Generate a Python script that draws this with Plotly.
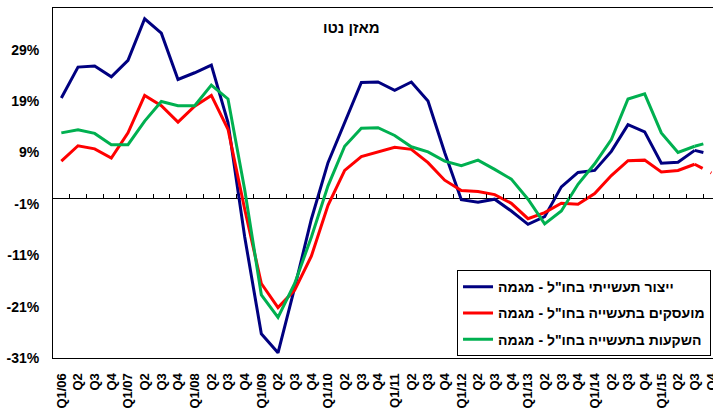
import plotly.graph_objects as go

quarters = []
for yr in range(6, 16):
    quarters += ["Q1/%02d" % yr, "Q2", "Q3", "Q4"]

industrial_production = [19.6, 25.6, 25.8, 23.7, 26.9, 35.0, 32.2, 23.2, 24.5, 26.0,
                         14.8, -7.4, -26.3, -30.0, -17.3, -4.0, 7.0, 14.8, 22.6, 22.7,
                         21.1, 22.7, 19.0, 9.0, -0.2, -0.7, -0.1, -2.4, -5.0, -3.5,
                         2.3, 5.1, 5.5, 9.2, 14.4, 13.0, 6.9, 7.1, 9.4, 8.6]
employment = [7.3, 10.3, 9.7, 7.9, 12.8, 20.1, 18.1, 14.9, 18.0, 20.1,
              13.5, -2.0, -16.5, -21.2, -17.8, -11.2, -1.3, 5.5, 8.2, 9.1,
              10.0, 9.6, 7.0, 3.6, 1.6, 1.4, 0.8, -0.9, -3.9, -2.7,
              -0.9, -1.1, 1.0, 4.5, 7.4, 7.5, 5.2, 5.5, 6.7, 5.0]
investment = [12.8, 13.4, 12.7, 10.5, 10.5, 15.1, 18.9, 18.1, 18.1, 22.1,
              19.4, 1.8, -18.7, -23.1, -16.5, -7.5, 2.5, 10.2, 13.7, 13.8,
              12.3, 10.1, 9.1, 7.3, 6.4, 7.5, 5.7, 3.8, -0.1, -4.9,
              -2.4, 2.8, 6.8, 11.5, 19.4, 20.4, 12.8, 9.0, 10.2, 11.1]

series_names = ['ייצור תעשייתי בחו"ל - מגמה',
                'מועסקים בתעשייה בחו"ל - מגמה',
                'השקעות בתעשייה בחו"ל - מגמה']
series_values = [industrial_production, employment, investment]
series_colors = ["#000080", "#FF0000", "#00B050"]
title_text = "מאזן נטו"

y_ticks = [-31, -21, -11, -1, 9, 19, 29]
y_min, y_max = -31, 37.1
x_min, x_max = -0.5, 39.1

FONT = "Liberation Sans, Arial, sans-serif"
xs = list(range(len(quarters)))

fig = go.Figure()
for name, vals, col in zip(series_names, series_values, series_colors):
    fig.add_trace(go.Scatter(x=xs[:-1], y=vals[:-1], mode="lines", name=name,
                             line=dict(color=col, width=3), legendgroup=name))
    fig.add_trace(go.Scatter(x=xs[-2:], y=vals[-2:], mode="lines", name=name,
                             line=dict(color=col, width=3, dash="dash"),
                             legendgroup=name, showlegend=False))

# helper trace so the zero-line tick axis is drawn
fig.add_trace(go.Scatter(x=[None], y=[None], xaxis="x2", showlegend=False, hoverinfo="skip"))

zero_pos = (0 - y_min) / (y_max - y_min)

fig.update_layout(
    width=713, height=409,
    margin=dict(l=53, r=0, t=8, b=51, autoexpand=False),
    paper_bgcolor="white", plot_bgcolor="white",
    font=dict(family=FONT, size=13, color="black", weight="bold"),
    showlegend=True,
    legend=dict(x=0.997, xanchor="right", y=0.251, yanchor="top",
                bgcolor="white", bordercolor="black", borderwidth=1,
                font=dict(family=FONT, size=14, color="black", weight="bold"),
                traceorder="grouped", tracegroupgap=5),
    xaxis=dict(range=[x_min, x_max], tickmode="array", tickvals=xs, ticktext=quarters,
               tickangle=-90, showgrid=False, zeroline=False, ticks="",
               showline=True, linecolor="black", linewidth=1, mirror=True,
               tickfont=dict(family=FONT, size=13, color="black", weight="bold"),
               ticklabelstandoff=9, ticklabeloverflow="allow"),
    xaxis2=dict(range=[x_min, x_max], overlaying="x", anchor="free", position=zero_pos,
                side="top", tickmode="array", tickvals=[i + 0.5 for i in range(len(quarters) - 1)],
                ticks="outside", ticklen=5, tickcolor="black", tickwidth=1,
                showticklabels=False, showgrid=False, zeroline=False, showline=False),
    yaxis=dict(range=[y_min, y_max], tickmode="array", tickvals=y_ticks,
               ticktext=["%d%%" % v for v in y_ticks],
               showgrid=False, zeroline=True, zerolinecolor="black", zerolinewidth=1,
               showline=True, linecolor="black", linewidth=1, mirror=True, ticks="",
               tickfont=dict(family=FONT, size=14, color="black", weight="bold"),
               ticklabelstandoff=10),
    annotations=[dict(text=title_text, xref="paper", yref="paper", x=0.4526, y=0.943,
                      showarrow=False, xanchor="center", yanchor="middle",
                      font=dict(family=FONT, size=15, color="black", weight="bold"))],
)

fig.write_html("out.html", config={"displayModeBar": False},
               post_script="document.body.style.margin='0';document.body.style.overflow='hidden';")
